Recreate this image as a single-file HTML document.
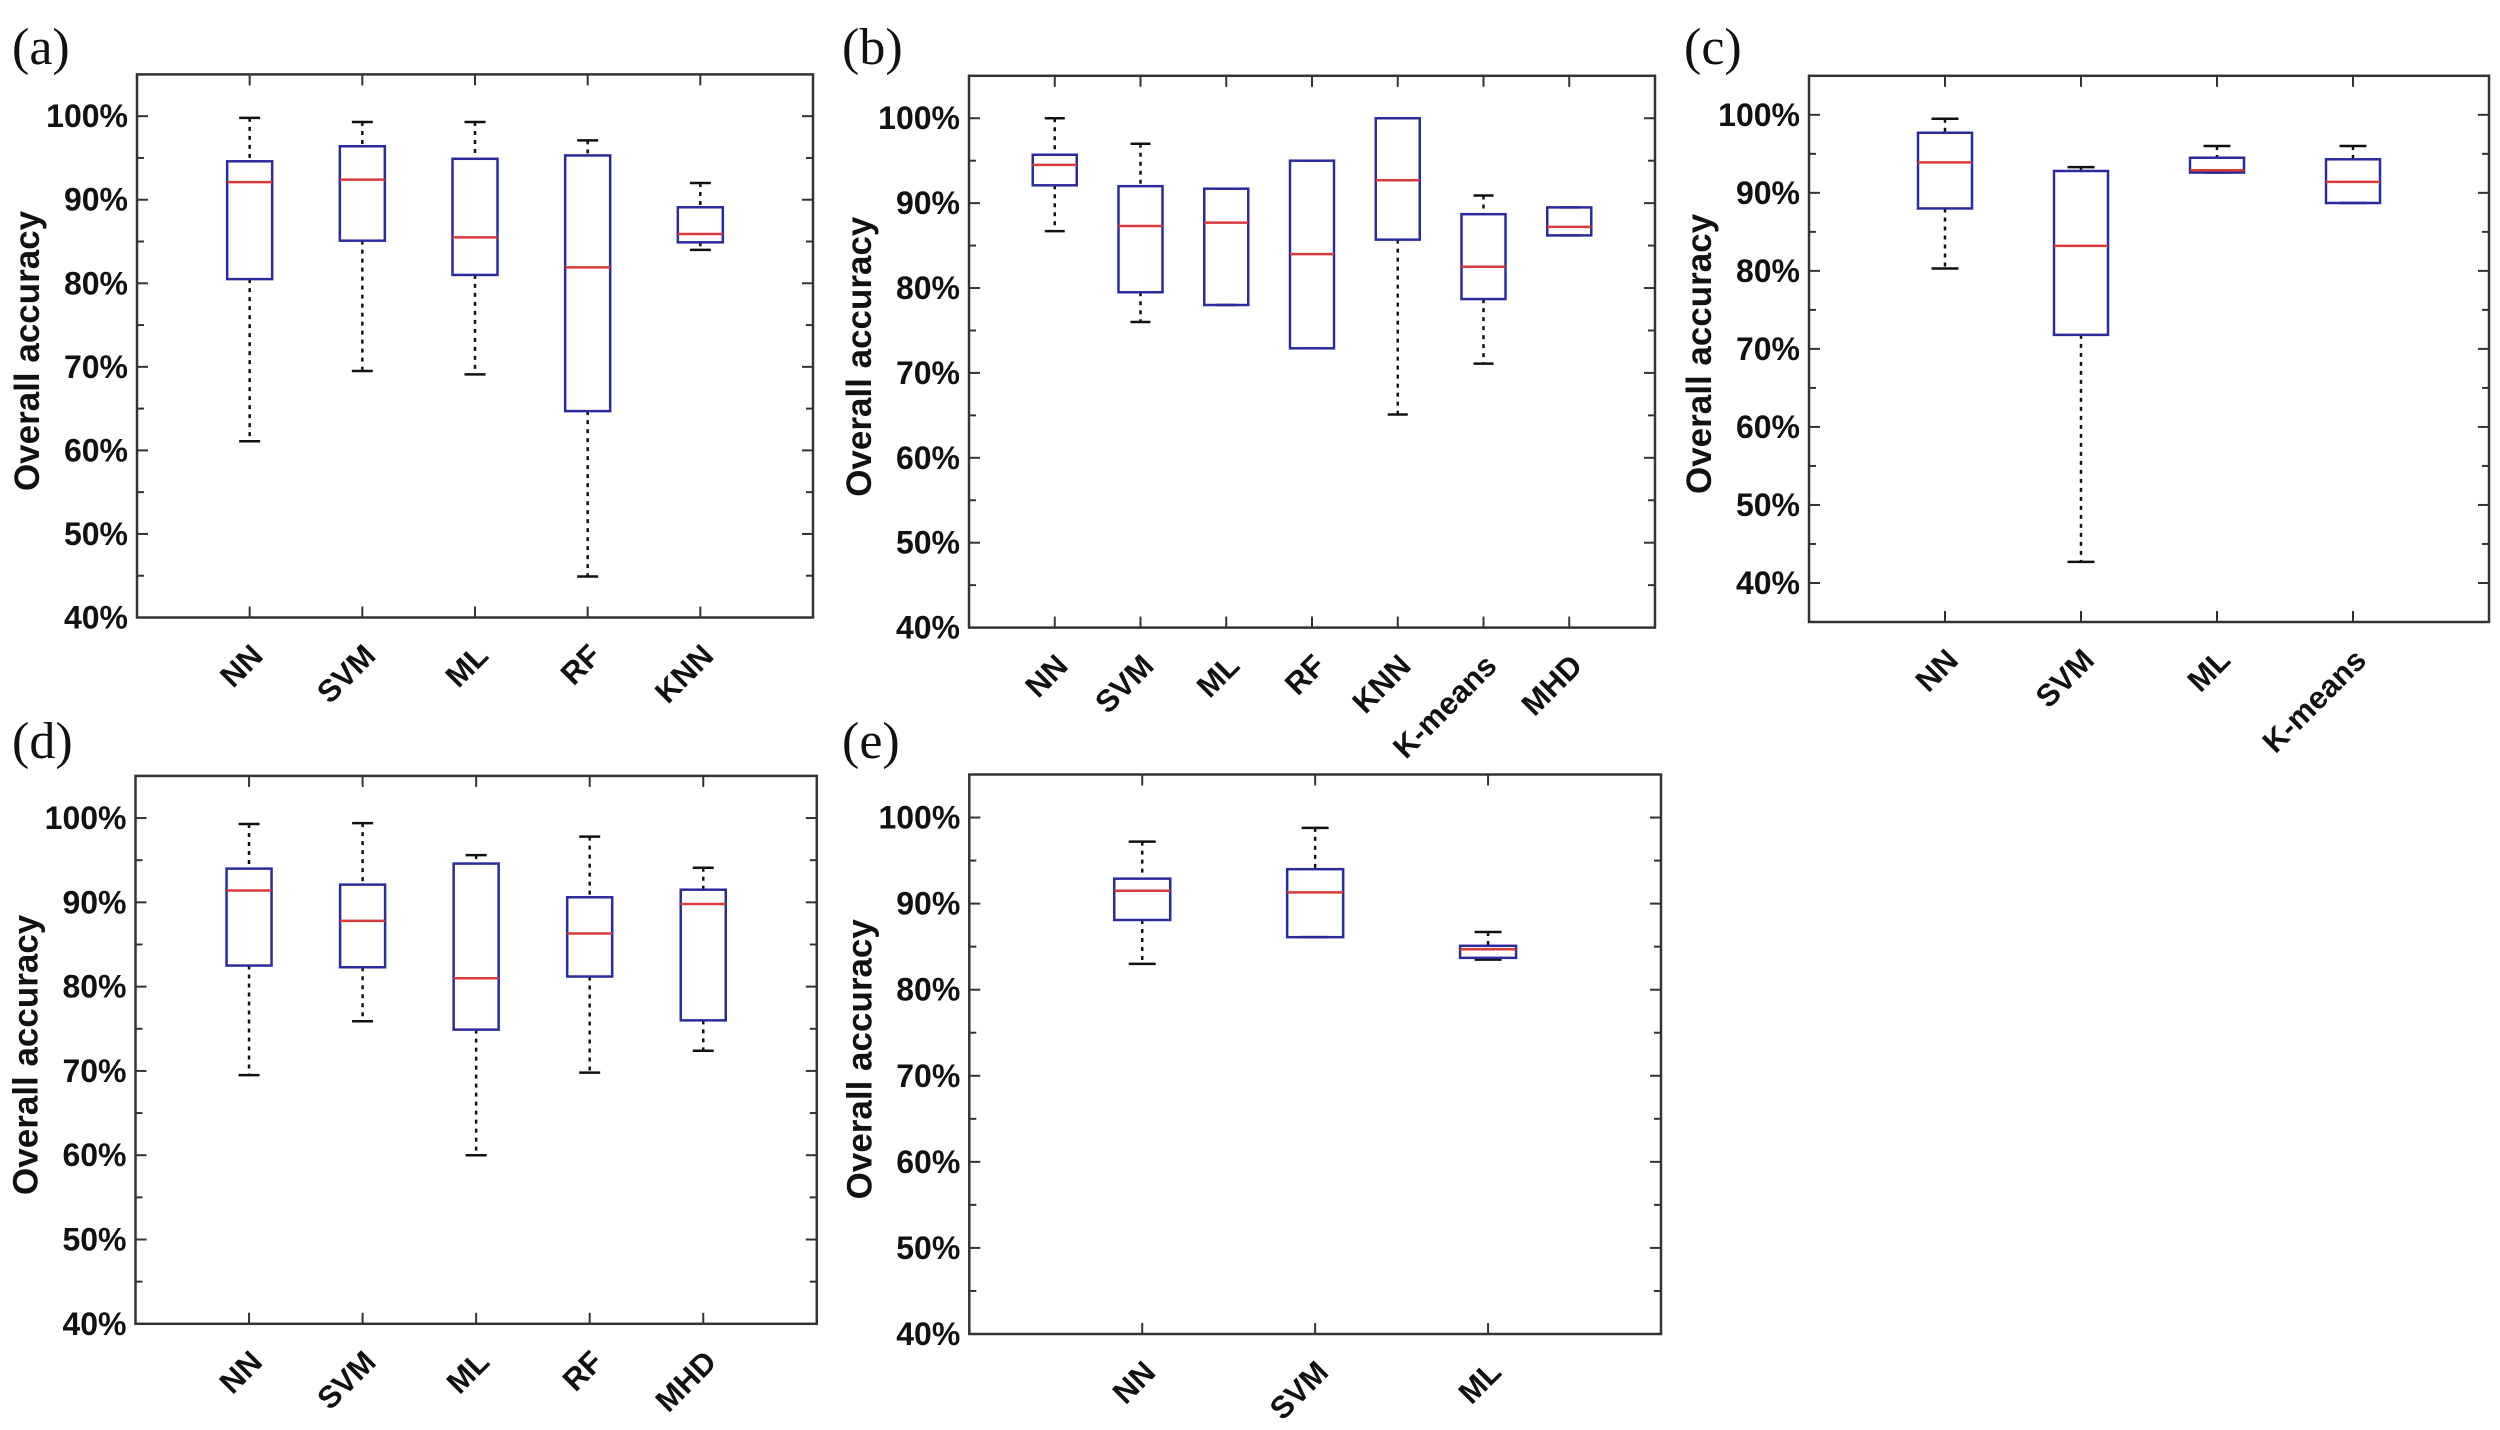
<!DOCTYPE html>
<html><head><meta charset="utf-8"><style>
html,body{margin:0;padding:0;background:#fff;}
svg{display:block;}
text{font-family:"Liberation Sans",Arial,sans-serif;font-weight:bold;fill:#111;}
.pl{font-family:"Liberation Serif",serif;font-weight:normal;}
</style></head><body>
<svg id="fig" width="2500" height="1430" viewBox="0 0 2500 1430" xmlns="http://www.w3.org/2000/svg"></svg>
<script>
// Panel (a)
const catsA = ["NN","SVM","ML","RF","KNN"];
const wLoA = [61.1,69.5,69.1,44.9,84.0];
const q1A  = [80.5,85.1,81.0,64.7,84.9];
const medA = [92.1,92.4,85.5,81.9,85.9];
const q3A  = [94.6,96.4,94.9,95.3,89.1];
const wHiA = [99.8,99.3,99.3,97.1,92.0];
// Panel (b)
const catsB = ["NN","SVM","ML","RF","KNN","K-means","MHD"];
const wLoB = [86.7,76.0,78.0,72.9,65.1,71.1,86.2];
const q1B  = [92.1,79.5,78.0,72.9,85.7,78.7,86.2];
const medB = [94.5,87.3,87.7,84.0,92.7,82.5,87.2];
const q3B  = [95.7,92.0,91.7,95.0,100.0,88.7,89.5];
const wHiB = [100.0,97.0,91.7,95.0,100.0,90.9,89.5];
// Panel (c)
const catsC = ["NN","SVM","ML","K-means"];
const wLoC = [80.3,42.7,92.6,88.7];
const q1C  = [88.0,71.8,92.6,88.7];
const medC = [93.9,83.2,92.9,91.4];
const q3C  = [97.7,92.8,94.5,94.3];
const wHiC = [99.5,93.3,96.0,96.0];
// Panel (d)
const catsD = ["NN","SVM","ML","RF","MHD"];
const wLoD = [69.5,75.9,60.0,69.8,72.4];
const q1D  = [82.5,82.3,74.9,81.2,76.0];
const medD = [91.4,87.8,81.0,86.3,89.8];
const q3D  = [94.0,92.1,94.6,90.6,91.5];
const wHiD = [99.3,99.4,95.6,97.8,94.1];
// Panel (e)
const catsE = ["NN","SVM","ML"];
const wLoE = [83.0,86.1,83.5];
const q1E  = [88.1,86.1,83.7];
const medE = [91.5,91.3,84.7];
const q3E  = [92.9,94.0,85.1];
const wHiE = [97.2,98.8,86.7];
// Y tick labels
const yTicksMain = [40,50,60,70,80,90,100];
const yTicksC = [40,50,60,70,80,90,100];

const NS="http://www.w3.org/2000/svg";
const svg=document.getElementById('fig');
function mk(tag,attrs,parent){const e=document.createElementNS(NS,tag);for(const k in attrs)e.setAttribute(k,attrs[k]);(parent||svg).appendChild(e);return e;}

const panels=[
 {id:'a',L:137,R:813,T:74.4,B:617.5,ymin:40,ymax:105,cats:catsA,lo:wLoA,q1:q1A,md:medA,q3:q3A,hi:wHiA,ticks:yTicksMain,bw:45,cw:21,lx:12,ly:64},
 {id:'b',L:969,R:1655,T:75.8,B:627.6,ymin:40,ymax:105,cats:catsB,lo:wLoB,q1:q1B,md:medB,q3:q3B,hi:wHiB,ticks:yTicksMain,bw:44,cw:20,lx:842,ly:64},
 {id:'c',L:1809,R:2489,T:75.8,B:622,ymin:35,ymax:105,cats:catsC,lo:wLoC,q1:q1C,md:medC,q3:q3C,hi:wHiC,ticks:yTicksC,bw:54,cw:27,lx:1684,ly:64},
 {id:'d',L:135.5,R:816.8,T:775.9,B:1323.8,ymin:40,ymax:105,cats:catsD,lo:wLoD,q1:q1D,md:medD,q3:q3D,hi:wHiD,ticks:yTicksMain,bw:45,cw:21,lx:12,ly:758},
 {id:'e',L:969.3,R:1661,T:774.5,B:1334,ymin:40,ymax:105,cats:catsE,lo:wLoE,q1:q1E,md:medE,q3:q3E,hi:wHiE,ticks:yTicksMain,bw:56,cw:27,lx:842,ly:758}
];

panels.forEach(p=>{
  const g=mk('g',{});
  
  
  const y=v=>p.B-(v-p.ymin)/(p.ymax-p.ymin)*(p.B-p.T);
  const n=p.cats.length, step=(p.R-p.L)/(n+1);
  const x=i=>p.L+step*(i+1);
  const lab=mk('text',{x:p.lx,y:p.ly,'font-size':52,class:'pl'},g);
  lab.textContent='('+p.id+')';
  
  
  const fr=mk('rect',{x:p.L,y:p.T,width:p.R-p.L,height:p.B-p.T,fill:'none',stroke:'#333',"stroke-width":2.5},g);
  
  
  for(let v=p.ymin; v<=p.ymax; v+=5){
    const yy=y(v); if(yy<p.T+1||yy>p.B-1) continue;
    const major=v%10===0; const len=major?11:7;
    mk('line',{x1:p.L,x2:p.L+len,y1:yy,y2:yy,stroke:'#333','stroke-width':2},g);
    mk('line',{x1:p.R,x2:p.R-len,y1:yy,y2:yy,stroke:'#333','stroke-width':2},g);
  }
  p.ticks.forEach(v=>{
    const t=mk('text',{x:p.L-9,y:y(v)+11,'font-size':32,'text-anchor':'end',transform:`translate(0,0)`},g);
    t.textContent=v+'%';
    
    
  });
  const yt=mk('text',{x:0,y:0,'font-size':35,'text-anchor':'middle',transform:`translate(${p.L-98},${(p.T+p.B)/2+5}) rotate(-90)`},g);
  yt.textContent='Overall accuracy';
  
  
  p.cats.forEach((c,i)=>{
    const cx=x(i);
    mk('line',{x1:cx,x2:cx,y1:p.B,y2:p.B-11,stroke:'#333','stroke-width':2},g);
    mk('line',{x1:cx,x2:cx,y1:p.T,y2:p.T+11,stroke:'#333','stroke-width':2},g);
    const t=mk('text',{x:0,y:0,'font-size':31,'text-anchor':'end',transform:`translate(${cx+15},${p.B+40}) rotate(-45)`},g);
    t.textContent=c;
    
    
    const bg=mk('g',{},g);
    
    
    const hw=p.bw/2, cw=p.cw/2;
    if(p.hi[i]>p.q3[i]) mk('line',{x1:cx,x2:cx,y1:y(p.hi[i]),y2:y(p.q3[i]),stroke:'#111','stroke-width':2.5,'stroke-dasharray':'4,5'},bg);
    if(p.lo[i]<p.q1[i]) mk('line',{x1:cx,x2:cx,y1:y(p.q1[i]),y2:y(p.lo[i]),stroke:'#111','stroke-width':2.5,'stroke-dasharray':'4,5'},bg);
    mk('line',{x1:cx-cw,x2:cx+cw,y1:y(p.hi[i]),y2:y(p.hi[i]),stroke:'#111','stroke-width':2.5},bg);
    mk('line',{x1:cx-cw,x2:cx+cw,y1:y(p.lo[i]),y2:y(p.lo[i]),stroke:'#111','stroke-width':2.5},bg);
    mk('rect',{x:cx-hw,y:y(p.q3[i]),width:p.bw,height:Math.max(1,y(p.q1[i])-y(p.q3[i])),fill:'none',stroke:'#2b2b9e','stroke-width':2.5},bg);
    mk('line',{x1:cx-hw,x2:cx+hw,y1:y(p.md[i]),y2:y(p.md[i]),stroke:'#d93a3a','stroke-width':2.5},bg);
  });
});
</script>
</body></html>
